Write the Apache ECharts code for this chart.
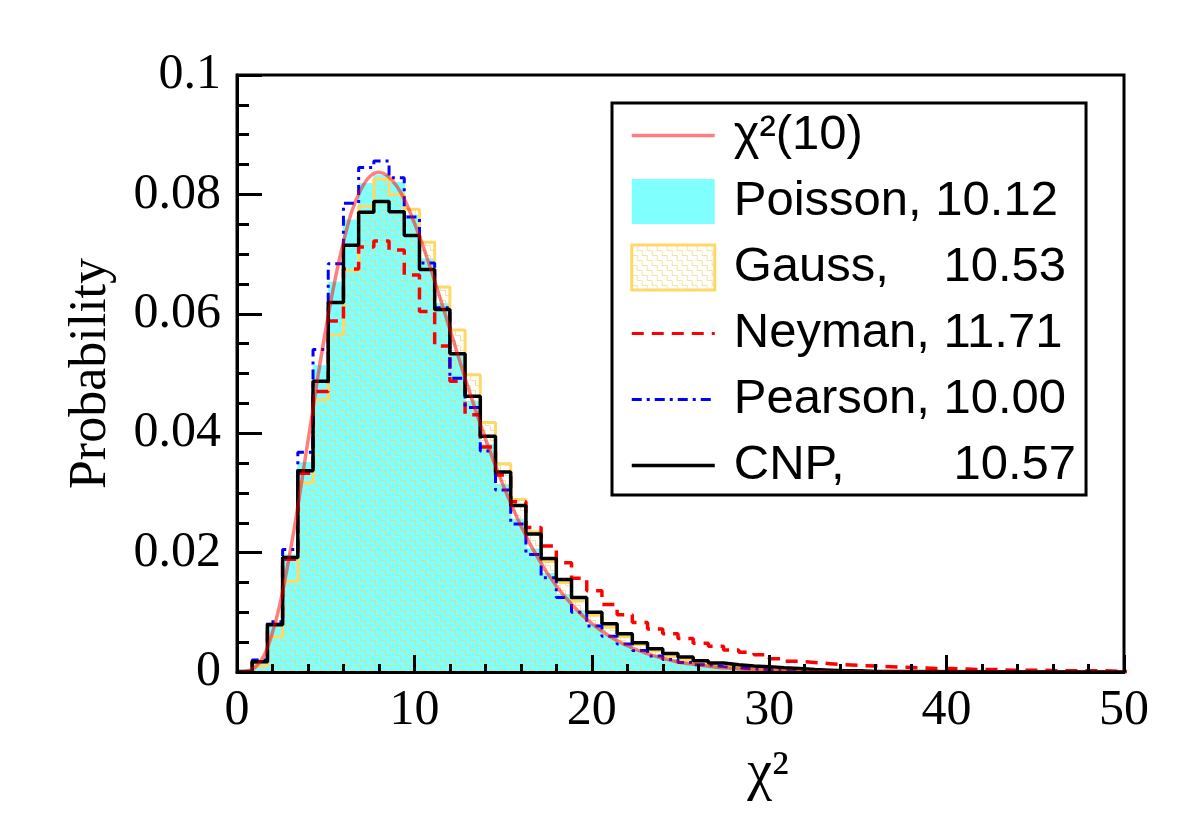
<!DOCTYPE html>
<html>
<head>
<meta charset="utf-8">
<title>chi2 distributions</title>
<script src="https://cdn.jsdelivr.net/npm/echarts@6/dist/echarts.min.js"></script>
<style>
  html, body { margin: 0; padding: 0; background: #fff; }
  #chart { width: 1182px; height: 821px; }
</style>
</head>
<body>
<div id="chart"></div>
<script>
// histogram bin width (chi2 units), bins start at 0
const binWidth = 6 / 7;

// bin contents, bin 0 first
const poisson = [0.0001, 0.0017, 0.0082, 0.0196, 0.0351, 0.0513, 0.0653, 0.0757, 0.0818, 0.0832,
  0.0820, 0.0765, 0.0692, 0.0617, 0.0530, 0.0453, 0.0381, 0.0314, 0.0256, 0.0206,
  0.0165, 0.0130, 0.0102, 0.0079, 0.0061, 0.0047, 0.0036, 0.0027, 0.0021, 0.0016,
  0.0012, 0.0009, 0.0007, 0.0005, 0.0004, 0.0003, 0.0002, 0.0002, 0.0001, 0.0001];
const gauss = [0.0000, 0.0010, 0.0059, 0.0152, 0.0317, 0.0456, 0.0565, 0.0672, 0.0780, 0.0826,
  0.0800, 0.0775, 0.0720, 0.0645, 0.0573, 0.0498, 0.0418, 0.0349, 0.0289, 0.0235,
  0.0185, 0.0150, 0.0119, 0.0095, 0.0075, 0.0059, 0.0046, 0.0035, 0.0026, 0.0020,
  0.0015, 0.0011, 0.0008, 0.0006, 0.0004, 0.0003, 0.0002, 0.0002, 0.0001, 0.0001];
const neyman = [0.0000, 0.0017, 0.0080, 0.0189, 0.0333, 0.0470, 0.0588, 0.0675, 0.0712, 0.0722,
  0.0707, 0.0665, 0.0604, 0.0546, 0.0487, 0.0431, 0.0377, 0.0330, 0.0285, 0.0242,
  0.0211, 0.0183, 0.0157, 0.0136, 0.0113, 0.0096, 0.0083, 0.0072, 0.0064, 0.0056,
  0.0048, 0.0043, 0.0037, 0.0033, 0.0029, 0.0022, 0.0018, 0.0016, 0.0014, 0.0012,
  0.0011, 0.0010, 0.0009, 0.0008, 0.0007, 0.0006, 0.0006, 0.0005, 0.0004, 0.0004,
  0.0003, 0.0003, 0.0003, 0.0002, 0.0002, 0.0002, 0.0002, 0.0001, 0.0001];
const pearson = [0.0001, 0.0020, 0.0084, 0.0205, 0.0368, 0.0540, 0.0684, 0.0785, 0.0845, 0.0856,
  0.0828, 0.0762, 0.0685, 0.0610, 0.0492, 0.0443, 0.0370, 0.0305, 0.0248, 0.0197,
  0.0158, 0.0125, 0.0100, 0.0077, 0.0060, 0.0047, 0.0036, 0.0027, 0.0021, 0.0016,
  0.0012, 0.0009, 0.0007, 0.0005, 0.0004, 0.0003, 0.0002, 0.0001, 0.0001];
const cnp = [0.0001, 0.0017, 0.0079, 0.0192, 0.0337, 0.0487, 0.0619, 0.0715, 0.0770, 0.0788,
  0.0771, 0.0731, 0.0674, 0.0607, 0.0533, 0.0462, 0.0395, 0.0335, 0.0279, 0.0231,
  0.0190, 0.0155, 0.0125, 0.0100, 0.0081, 0.0064, 0.0049, 0.0039, 0.0031, 0.0025,
  0.0019, 0.0015, 0.0012, 0.0010, 0.0009, 0.0007, 0.0006, 0.0004, 0.0003, 0.0002,
  0.0002, 0.0001, 0.0001];

// the chi2(10) curve, sampled along x
const chi2X = [0, 1, 2, 3, 4, 5, 6, 7, 8, 9, 10, 11, 12, 13, 14, 15, 16, 17, 18, 19,
  20, 21, 22, 23, 24, 25, 26, 27, 28, 29, 30, 32, 35, 40, 50];
const chi2Y = [0, 0.0007, 0.0066, 0.0202, 0.0387, 0.0573, 0.0720, 0.0809, 0.0837, 0.0814,
  0.0752, 0.0668, 0.0574, 0.0479, 0.0391, 0.0313, 0.0245, 0.0189, 0.0144, 0.0109,
  0.0081, 0.0060, 0.0044, 0.0032, 0.0023, 0.0016, 0.0012, 0.0008, 0.0006, 0.0004,
  0.0003, 0.0001, 0, 0, 0];

const names = ['χ²(10)', 'Poisson, 10.12', 'Gauss,    10.53', 'Neyman, 11.71', 'Pearson, 10.00', 'CNP,        10.57'];

// histogram -> points for a step line (left edge of each bin)
function stepData(values) {
  const pts = values.map((v, i) => [i * binWidth, v]);
  pts.push([values.length * binWidth, values[values.length - 1]]);
  pts.push([values.length * binWidth, 0]);
  pts.push([50, 0]);
  return pts;
}

// staircase hatch like the ROOT fill style
const hatch = document.createElement('canvas');
hatch.width = 10;
hatch.height = 10;
const hctx = hatch.getContext('2d');
hctx.strokeStyle = 'rgba(232,214,110,0.65)';
hctx.lineWidth = 1;
hctx.beginPath();
hctx.moveTo(0, 0.5); hctx.lineTo(5.5, 0.5); hctx.lineTo(5.5, 5.5); hctx.lineTo(10, 5.5);
hctx.moveTo(0.5, 5.5); hctx.lineTo(0.5, 10);
hctx.stroke();
const hatchFill = { image: hatch, repeat: 'repeat' };

const chart = echarts.init(document.getElementById('chart'));

const tickLine = { color: '#000', width: 3 };
// legend entries that are lines: hide the marker, keep only the line
const noMarker = { color: 'rgba(0,0,0,0)', borderWidth: 0, opacity: 0 };

chart.setOption({
  animation: false,
  textStyle: { fontFamily: 'Liberation Serif', color: '#000' },
  grid: { left: 237, right: 58, top: 75, bottom: 149, show: true, borderColor: '#000', borderWidth: 3 },
  xAxis: {
    type: 'value', min: 0, max: 50, interval: 10, z: 10,
    name: 'χ²', nameLocation: 'middle', nameGap: 74,
    nameTextStyle: { fontFamily: 'Liberation Serif', fontSize: 56, color: '#000', padding: [0, 0, 0, 175] },
    axisLine: { show: true, onZero: false, lineStyle: tickLine },
    axisTick: { inside: true, length: 17, lineStyle: tickLine },
    minorTick: { show: true, splitNumber: 5, length: 8, lineStyle: tickLine },
    splitLine: { show: false },
    axisLabel: { fontFamily: 'Liberation Serif', fontSize: 50, color: '#000', margin: 14 }
  },
  yAxis: {
    type: 'value', min: 0, max: 0.1, interval: 0.02, z: 10,
    name: 'Probability', nameLocation: 'middle', nameGap: 120,
    nameTextStyle: { fontFamily: 'Liberation Serif', fontSize: 52, color: '#000' },
    axisLine: { show: true, onZero: false, lineStyle: tickLine },
    axisTick: { inside: true, length: 25, lineStyle: tickLine },
    minorTick: { show: true, splitNumber: 4, length: 12, lineStyle: tickLine },
    splitLine: { show: false },
    axisLabel: { fontFamily: 'Liberation Serif', fontSize: 50, color: '#000', margin: 16 }
  },
  legend: {
    orient: 'vertical', left: 612, top: 103,
    backgroundColor: '#fff', borderColor: '#000', borderWidth: 3,
    padding: [8, 10, 5, 18],
    itemWidth: 83, itemHeight: 45, itemGap: 17,
    selectedMode: false,
    textStyle: { fontFamily: 'Liberation Sans', fontSize: 49, color: '#000', lineHeight: 45, width: 300, padding: [0, 0, 0, 14] },
    data: [
      { name: names[0], itemStyle: noMarker, lineStyle: { color: 'rgba(255,0,0,0.5)', width: 3.5 } },
      { name: names[1], icon: 'rect', itemStyle: { color: '#80ffff', borderWidth: 0 } },
      { name: names[2], icon: 'rect', itemStyle: { color: hatchFill, borderColor: '#ffd966', borderWidth: 3 } },
      { name: names[3], itemStyle: noMarker, lineStyle: { color: '#ff0000', width: 3, type: [12, 8] } },
      { name: names[4], itemStyle: noMarker, lineStyle: { color: '#0000ff', width: 3, type: [10, 5, 3, 5] } },
      { name: names[5], itemStyle: noMarker, lineStyle: { color: '#000', width: 3.5 } }
    ]
  },
  series: [
    {
      name: names[1], type: 'line', step: 'end', symbol: 'none', data: stepData(poisson),
      itemStyle: { color: '#80ffff' },
      lineStyle: { color: '#80ffff', width: 1 },
      areaStyle: { color: '#80ffff', opacity: 1 }
    },
    {
      name: names[2], type: 'line', step: 'end', symbol: 'none', data: stepData(gauss),
      itemStyle: { color: '#ffd966' },
      lineStyle: { color: '#ffd966', width: 3 },
      areaStyle: { color: hatchFill, opacity: 1 }
    },
    {
      name: names[3], type: 'line', step: 'end', symbol: 'none', data: stepData(neyman),
      itemStyle: { color: '#ff0000' },
      lineStyle: { color: '#ff0000', width: 3.5, type: [12, 8] }
    },
    {
      name: names[4], type: 'line', step: 'end', symbol: 'none', data: stepData(pearson),
      itemStyle: { color: '#0000ff' },
      lineStyle: { color: '#0000ff', width: 3, type: [10, 5, 3, 5] }
    },
    {
      name: names[5], type: 'line', step: 'end', symbol: 'none', data: stepData(cnp),
      itemStyle: { color: '#000' },
      lineStyle: { color: '#000', width: 3.5 }
    },
    {
      name: names[0], type: 'line', smooth: 0.4, symbol: 'none',
      data: chi2X.map((x, i) => [x, chi2Y[i]]),
      itemStyle: { color: 'rgba(255,0,0,0.5)' },
      lineStyle: { color: 'rgba(255,0,0,0.5)', width: 3.5 }
    }
  ]
});
</script>
</body>
</html>
